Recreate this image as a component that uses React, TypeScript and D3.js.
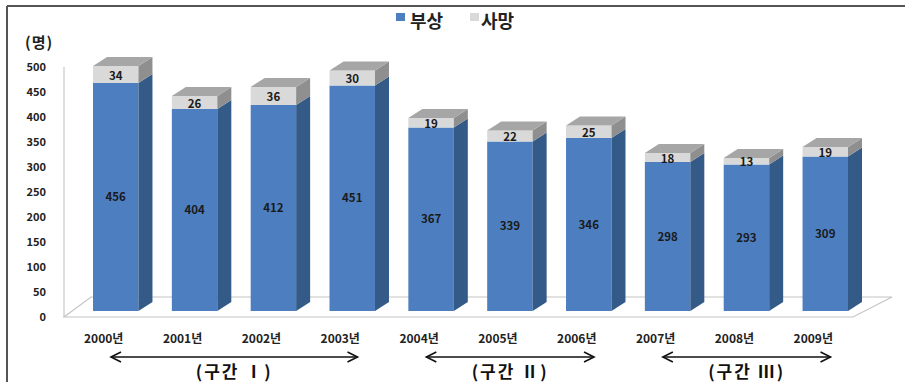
import React from "react";
import * as d3 from "d3";

// 연도별 부상자·사망자 수 (명)
const years = ["2000년", "2001년", "2002년", "2003년", "2004년", "2005년", "2006년", "2007년", "2008년", "2009년"];
const injured = [456, 404, 412, 451, 367, 339, 346, 298, 293, 309];
const deaths = [34, 26, 36, 30, 19, 22, 25, 18, 13, 19];
const yTicks = [0, 50, 100, 150, 200, 250, 300, 350, 400, 450, 500];
const seriesNames = ["부상", "사망"];
const periodLabels = ["(구간 Ⅰ)", "(구간 Ⅱ)", "(구간 Ⅲ)"];
const periodStart = [0, 4, 7];
const periodEnd = [3, 6, 9];

const W = 905;
const H = 382;
const FONT = "'Noto Sans CJK KR', 'Noto Sans', sans-serif";

const BLUE = "#4d7fc0";
const BLUE_SIDE = "#345a88";
const GRAY = "#d9d9d9";
const GRAY_SIDE = "#8f8f8f";
const GRAY_TOP = "#a6a6a6";

const DX = 14; // bar depth offsets
const DY = 9;

export default function App() {
  const x = d3.scaleBand<string>().domain(years).range([93, 848]).paddingInner(0.4233).paddingOuter(0);
  const y = d3.scaleLinear().domain([0, 500]).range([311, 61]);
  const bw = x.bandwidth();

  const floorFront = y(0) + 6;
  const floorBack = y(0) - 14;
  const floorPts = [
    [64, floorFront],
    [91, floorBack],
    [892, floorBack],
    [853, floorFront],
  ];

  const poly = (pts: number[][]) => pts.map((p) => p.join(",")).join(" ");

  const arrowY = 357;

  return (
    <svg width={W} height={H} style={{ position: "absolute", left: 0, top: 0, background: "#fff" }} fontFamily={FONT}>
      {/* frame */}
      <line x1={7} y1={6} x2={W} y2={6} stroke="#555" strokeWidth={2} />
      <line x1={7} y1={6} x2={7} y2={H} stroke="#555" strokeWidth={2} />

      {/* legend */}
      <rect x={396} y={13} width={9} height={8} fill={BLUE} />
      <text x={410} y={28} fontSize={18} fontWeight="bold" fill="#222">{seriesNames[0]}</text>
      <rect x={470} y={13} width={9} height={8} fill={GRAY} />
      <text x={481} y={28} fontSize={18} fontWeight="bold" fill="#222">{seriesNames[1]}</text>

      {/* unit */}
      <text x={25} y={48} fontSize={15} fontWeight="bold" letterSpacing={1} fill="#222">(명)</text>

      {/* y axis */}
      <line x1={64} y1={y(500) + 6} x2={64} y2={floorFront} stroke="#c8c8c8" strokeWidth={1.2} />
      {yTicks.map((t) => (
        <text key={t} x={46} y={y(t) + 6} dy="0.35em" textAnchor="end" fontSize={11} fontWeight="bold" fill="#222">
          {t}
        </text>
      ))}

      {/* floor */}
      <polygon points={poly(floorPts)} fill="#fff" stroke="#c4c4c4" strokeWidth={1.2} />

      {/* bars */}
      {years.map((yr, i) => {
        const x0 = x(yr)!;
        const x1 = x0 + bw;
        const yb = y(0);
        const yi = y(injured[i]);
        const yt = y(injured[i] + deaths[i]);
        return (
          <g key={yr}>
            <rect x={x0} y={yi} width={bw} height={yb - yi} fill={BLUE} />
            <polygon points={poly([[x1, yi], [x1 + DX, yi - DY], [x1 + DX, yb - DY], [x1, yb]])} fill={BLUE_SIDE} />
            <rect x={x0} y={yt} width={bw} height={yi - yt} fill={GRAY} />
            <polygon points={poly([[x1, yt], [x1 + DX, yt - DY], [x1 + DX, yi - DY], [x1, yi]])} fill={GRAY_SIDE} />
            <polygon points={poly([[x0, yt], [x0 + DX, yt - DY], [x1 + DX, yt - DY], [x1, yt]])} fill={GRAY_TOP} />
            <text x={x0 + bw / 2} y={(yi + yb) / 2} dy="0.35em" textAnchor="middle" fontSize={11.5} fontWeight="bold" fill="#1a1a1a">
              {injured[i]}
            </text>
            <text x={x0 + bw / 2} y={(yt + yi) / 2 + 1} dy="0.35em" textAnchor="middle" fontSize={11.5} fontWeight="bold" fill="#1a1a1a">
              {deaths[i]}
            </text>
            <text x={x0 + bw / 2 - 12} y={339} dy="0.35em" textAnchor="middle" fontSize={12} fontWeight="bold" fill="#222">
              {yr}
            </text>
          </g>
        );
      })}

      {/* periods */}
      {periodLabels.map((lab, k) => {
        const a = x(years[periodStart[k]])! + 18;
        const b = x(years[periodEnd[k]])! + 28;
        return (
          <g key={lab}>
            <line x1={a} y1={arrowY} x2={b} y2={arrowY} stroke="#111" strokeWidth={1.6} />
            <polyline points={poly([[a + 10, arrowY - 5], [a, arrowY], [a + 10, arrowY + 5]])} fill="none" stroke="#111" strokeWidth={1.6} />
            <polyline points={poly([[b - 10, arrowY - 5], [b, arrowY], [b - 10, arrowY + 5]])} fill="none" stroke="#111" strokeWidth={1.6} />
            <text x={(a + b) / 2} y={378} textAnchor="middle" fontSize={17} fontWeight="bold" letterSpacing={2} fill="#111">
              {lab}
            </text>
          </g>
        );
      })}
    </svg>
  );
}
